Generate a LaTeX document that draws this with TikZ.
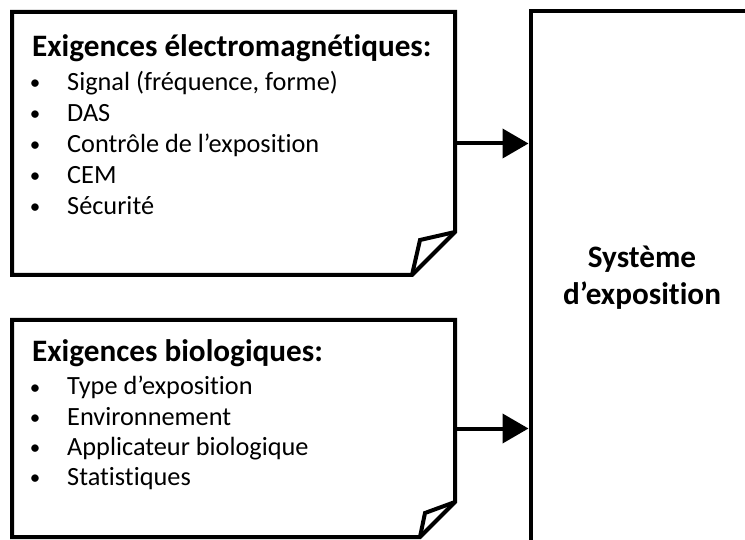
\documentclass[tikz,border=0pt]{standalone}
\usepackage{fontspec}
\setmainfont{Carlito}[Ligatures=NoCommon]
\usetikzlibrary{arrows.meta}
\begin{document}
\begin{tikzpicture}[x=1pt,y=-1pt,
  outline/.style={line width=4pt, line join=miter},
  sysline/.style={line width=4.5pt, line join=miter},
  area/.style={inner sep=0pt, outer sep=0pt},
  hd/.style={anchor=base west, inner sep=0pt, font=\fontsize{31.2}{36}\selectfont\bfseries},
  sysfont/.style={anchor=base, inner sep=0pt, font=\fontsize{31.2}{36}\selectfont\bfseries},
  itemtext/.style={anchor=base west, inner sep=0pt, font=\fontsize{26.3}{31}\selectfont},
  bul/.style={anchor=base, inner sep=0pt, font=\fontsize{21}{31}\selectfont},
  arr/.style={line width=4pt, -{Triangle[length=26pt,width=29pt]}, shorten >=2.5pt}]
\useasboundingbox (0,0) rectangle (745,540);
\clip (0,0) rectangle (745,540);

% box areas
\node[area, minimum width=443pt, minimum height=263pt] (em) at (233.5,143.5) {};
\node[area, minimum width=443pt, minimum height=217pt] (bio) at (233.5,428.5) {};
\node[area, minimum width=222pt, minimum height=531pt] (sys) at (642,276.5) {};

% outlines with folded corners
\draw[outline] (em.north west) -- (em.north east) -- ([yshift=43pt]em.south east)
  -- ([xshift=-43pt]em.south east) -- (em.south west) -- cycle;
\draw[outline] ([yshift=43pt]em.south east) -- ([xshift=-35pt,yshift=35pt]em.south east)
  -- ([xshift=-43pt]em.south east);

\draw[outline] (bio.north west) -- (bio.north east) -- ([yshift=35pt]bio.south east)
  -- ([xshift=-35pt]bio.south east) -- (bio.south west) -- cycle;
\draw[outline] ([yshift=35pt]bio.south east) -- ([xshift=-30pt,yshift=24pt]bio.south east)
  -- ([xshift=-35pt]bio.south east);

\draw[sysline] (sys.north west) rectangle (sys.south east);

% texts box 1
\node[hd] (emt) at (32,57) {Exigences électromagnétiques:};
\node[bul] (emb1) at (35,90) {•};
\node[itemtext] (emi1) at (67,91) {Signal (fréquence, forme)};
\node[bul] (emb2) at (35,121) {•};
\node[itemtext] (emi2) at (67,122) {DAS};
\node[bul] (emb3) at (35,152) {•};
\node[itemtext] (emi3) at (67,153) {Contrôle de l’exposition};
\node[bul] (emb4) at (35,183) {•};
\node[itemtext] (emi4) at (67,184) {CEM};
\node[bul] (emb5) at (35,214) {•};
\node[itemtext] (emi5) at (67,215) {Sécurité};

% texts box 2
\node[hd] (biot) at (32,362) {Exigences biologiques:};
\node[bul] (biob1) at (35,394) {•};
\node[itemtext] (bioi1) at (67,395) {Type d’exposition};
\node[bul] (biob2) at (35,424.5) {•};
\node[itemtext] (bioi2) at (67,425.5) {Environnement};
\node[bul] (biob3) at (35,454.5) {•};
\node[itemtext] (bioi3) at (67,455.5) {Applicateur biologique};
\node[bul] (biob4) at (35,484.5) {•};
\node[itemtext] (bioi4) at (67,485.5) {Statistiques};

% system text
\node[sysfont] (syst1) at (642,268) {Système};
\node[sysfont] (syst2) at (642,305) {d’exposition};

% arrows
\draw[arr] (em.east) -- (sys.west |- em.east);
\draw[arr] (bio.east) -- (sys.west |- bio.east);
\end{tikzpicture}
\end{document}
